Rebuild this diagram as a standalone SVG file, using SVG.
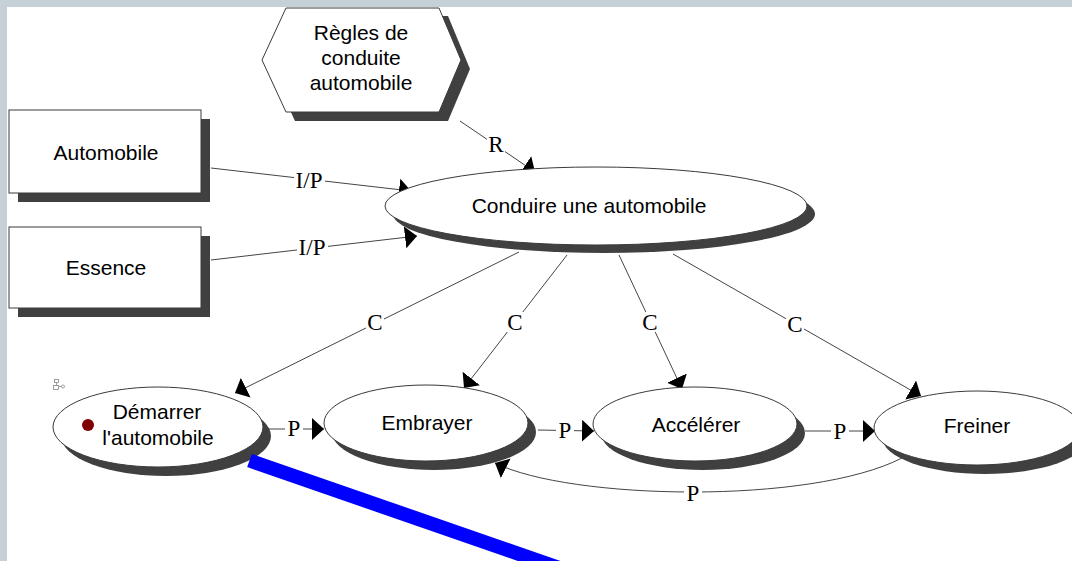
<svg xmlns="http://www.w3.org/2000/svg" width="1072" height="561" viewBox="0 0 1072 561">
<style>
.node{font-family:"Liberation Sans",Arial,sans-serif;font-size:21px;fill:#000;text-anchor:middle}
.lbl{font-family:"Liberation Serif","Times New Roman",serif;font-size:23px;fill:#000;text-anchor:middle}
.bg{fill:#fff}
.shape{fill:#fff;stroke:#3a3a3a;stroke-width:1}
.shadow{fill:#404040}
.conn{fill:none;stroke:#444;stroke-width:1;marker-end:url(#arr)}
</style>
<defs>
<marker id="arr" viewBox="0 -11 12 22" refX="12" refY="0" markerWidth="12" markerHeight="22" markerUnits="userSpaceOnUse" orient="auto">
<path d="M0,-11 L12,0 L0,11 Z" fill="#000"/>
</marker>
</defs>
<rect x="0" y="0" width="1072" height="561" fill="#fff"/>
<rect x="0" y="0" width="1072" height="7" fill="#c5d0d7"/>
<rect x="0" y="0" width="7" height="561" fill="#c5d0d7"/>

<g id="connectors">
<path class="conn" d="M211,168 L411,191"/>
<path class="conn" d="M211,260 L417,236"/>
<path class="conn" d="M460,121 L535,172"/>
<path class="conn" d="M519,252 L235,393"/>
<path class="conn" d="M567,255 L464,388"/>
<path class="conn" d="M619,255 L682,389"/>
<path class="conn" d="M673,254 L921,396"/>
<path class="conn" d="M268,429 L324,429"/>
<path class="conn" d="M538,430 L594,431"/>
<path class="conn" d="M805,431 L875,431"/>
<path class="conn" d="M902,458 C810,505 570,500 495,463"/>
<rect class="bg" x="294" y="170" width="31" height="20"/>
<rect class="bg" x="297" y="237" width="31" height="20"/>
<rect class="bg" x="487" y="134" width="18" height="20"/>
<rect class="bg" x="366" y="312" width="18" height="20"/>
<rect class="bg" x="506" y="312" width="18" height="20"/>
<rect class="bg" x="641" y="312" width="18" height="20"/>
<rect class="bg" x="786" y="314" width="18" height="20"/>
<rect class="bg" x="285" y="418" width="18" height="20"/>
<rect class="bg" x="556" y="420" width="18" height="20"/>
<rect class="bg" x="831" y="421" width="18" height="20"/>
<rect class="bg" x="684" y="483" width="18" height="20"/>
<text class="lbl" x="309" y="188">I/P</text>
<text class="lbl" x="312" y="255">I/P</text>
<text class="lbl" x="496" y="152">R</text>
<text class="lbl" x="375" y="330">C</text>
<text class="lbl" x="515" y="330">C</text>
<text class="lbl" x="650" y="330">C</text>
<text class="lbl" x="795" y="332">C</text>
<text class="lbl" x="294" y="436">P</text>
<text class="lbl" x="565" y="438">P</text>
<text class="lbl" x="840" y="439">P</text>
<text class="lbl" x="693" y="501">P</text>
</g>

<g id="regles">
<polygon class="shadow" points="271,69 295,16 448,16 470,69 448,121 295,121"/>
<polygon class="shape" points="262,60 286,8 439,8 461,60 439,112 286,112"/>
<text class="node" x="361" y="40">Règles de</text>
<text class="node" x="361" y="65">conduite</text>
<text class="node" x="361" y="90">automobile</text>
</g>

<g id="automobile">
<rect class="shadow" x="18" y="119" width="192" height="83"/>
<rect class="shape" x="9" y="110" width="192" height="83"/>
<text class="node" x="106" y="160">Automobile</text>
</g>

<g id="essence">
<rect class="shadow" x="18" y="236" width="192" height="81"/>
<rect class="shape" x="9" y="227" width="192" height="81"/>
<text class="node" x="106" y="275">Essence</text>
</g>

<g id="conduire">
<ellipse class="shadow" cx="604" cy="214" rx="211" ry="39"/>
<ellipse class="shape" cx="596" cy="206" rx="211" ry="39"/>
<text class="node" x="589" y="213">Conduire une automobile</text>
</g>

<g id="demarrer">
<ellipse class="shadow" cx="166" cy="436" rx="105" ry="40"/>
<ellipse class="shape" cx="158" cy="427" rx="105" ry="40"/>
<circle cx="88" cy="425" r="6" fill="#800000"/>
<text class="node" x="157" y="419">Démarrer</text>
<text class="node" x="158" y="445">l'automobile</text>
<g fill="none" stroke="#888" stroke-width="0.8">
<rect x="54.5" y="379.5" width="4" height="3"/>
<path d="M56.5,382.5 V385.5 M59,386.5 H61.5"/>
<rect x="53.5" y="385.5" width="5" height="4"/>
<circle cx="63" cy="386.5" r="1.5"/>
</g>
</g>

<g id="embrayer">
<ellipse class="shadow" cx="434" cy="432" rx="102" ry="38"/>
<ellipse class="shape" cx="426" cy="423" rx="102" ry="38"/>
<text class="node" x="427" y="430">Embrayer</text>
</g>

<g id="accelerer">
<ellipse class="shadow" cx="703" cy="433" rx="102" ry="37"/>
<ellipse class="shape" cx="695" cy="424" rx="102" ry="37"/>
<text class="node" x="696" y="432">Accélérer</text>
</g>

<g id="freiner">
<ellipse class="shadow" cx="985" cy="437" rx="103" ry="37"/>
<ellipse class="shape" cx="977" cy="428" rx="103" ry="37"/>
<text class="node" x="977" y="433">Freiner</text>
</g>

<line x1="249.5" y1="460.5" x2="640" y2="596" stroke="#0000ff" stroke-width="14"/>
</svg>
